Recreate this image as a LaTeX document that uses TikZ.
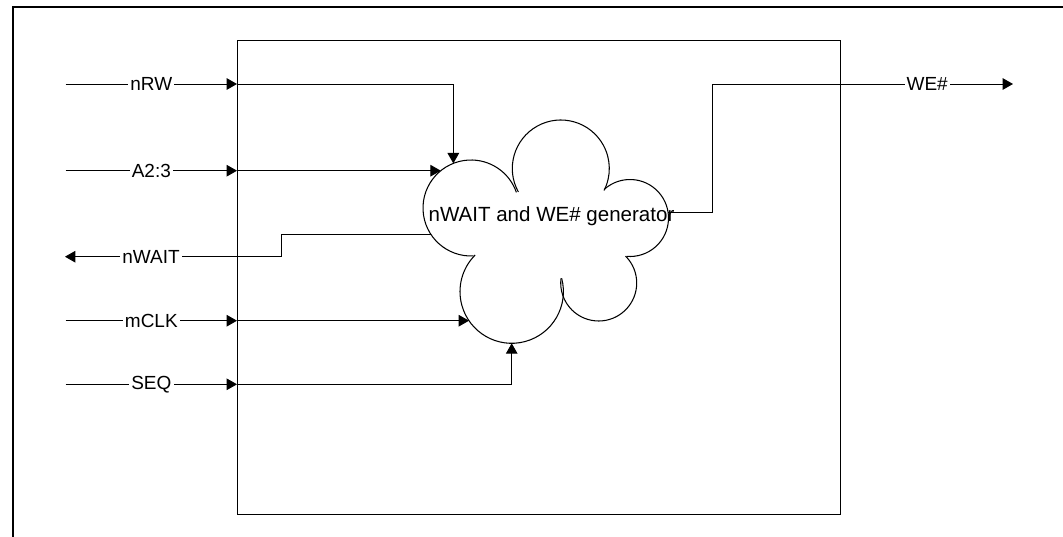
\documentclass[tikz,border=0pt]{standalone}
\usepackage{fontspec}
\setmainfont{Liberation Sans}
\usetikzlibrary{arrows.meta,positioning}

\begin{document}
\begin{tikzpicture}
[x=0.025cm, y=-0.025cm,
 sig/.style={draw=black, line width=0.7pt},
 sigin/.style={sig, -{Triangle[length=2.6mm,width=2.9mm]}},
 lbl/.style={fill=white, inner sep=1.5pt, font=\fontsize{13.5}{16}\selectfont},
 puff/.style={draw=black, line width=0.75pt}]
  \useasboundingbox (0,0) rectangle (1063,537);
  % outer frame
  \draw[line width=1.6pt] (13,537) -- (13,7) -- (1063,7);
  % block
  \node[draw, line width=0.9pt, minimum width=15.075cm, minimum height=11.84cm,
    inner sep=0pt] (blk) at (539.2,277.5) {};
  % generator cloud, one arc per puff
  \coordinate (puff-l) at (471,208);
  \coordinate (puff-t) at (560.8,168.5);
  \coordinate (puff-r) at (630,218);
  \coordinate (puff-lr) at (598.7,283);
  \coordinate (puff-b) at (511.7,291.6);
  \draw[puff] (puff-l) ++(-273:48) arc[start angle=-273, end angle=-19, radius=48];
  \draw[puff] (puff-t) ++(-209:48.5) arc[start angle=-209, end angle=27, radius=48.5];
  \draw[puff] (puff-r) ++(-132:38.5) arc[start angle=-132, end angle=95, radius=38.5];
  \draw[puff] (puff-lr) ++(-45:38) arc[start angle=-45, end angle=187, radius=38];
  \draw[puff] (puff-b) ++(-15:51.7) arc[start angle=-15, end angle=225, radius=51.7];
  \node[inner sep=0pt, anchor=base, font=\fontsize{14.6}{17}\selectfont] (gentxt)
    at (551.5,221.7) {nWAIT and WE\# generator};
  % where the connectors meet the cloud
  \path (puff-l) ++(-111.6:48) coordinate (nRW-tip);
  \path (puff-l) ++(-129:48) coordinate (A23-tip);
  \path (puff-l) ++(146.8:48) coordinate (nWAIT-tip);
  \path (puff-b) ++(145.7:51.7) coordinate (mCLK-tip);
  \path (puff-b) ++(90:51.7) coordinate (SEQ-tip);
  \path (puff-r) ++(-8:38.5) coordinate (WE-tip);
  % signal ends
  \coordinate (nRW-in) at (65.7,84);
  \coordinate (A23-in) at (65.7,170.7);
  \coordinate (nWAIT-out) at (65,256.7);
  \coordinate (mCLK-in) at (65.7,320.7);
  \coordinate (SEQ-in) at (65.7,384.3);
  \coordinate (WE-out) at (1013,84);
  % inputs
  \draw[sigin] (nRW-in) -- node[lbl]{nRW} (blk.west |- nRW-in);
  \draw[sigin] (blk.west |- nRW-in) -| (nRW-tip);
  \draw[sigin] (A23-in) -- node[lbl]{A2:3} (blk.west |- A23-in);
  \draw[sigin] (blk.west |- A23-in) -- (A23-tip |- A23-in);
  \draw[sigin] (mCLK-in) -- node[lbl]{mCLK} (blk.west |- mCLK-in);
  \draw[sigin] (blk.west |- mCLK-in) -- (mCLK-tip |- mCLK-in);
  \draw[sigin] (SEQ-in) -- node[lbl]{SEQ} (blk.west |- SEQ-in);
  \draw[sigin] (blk.west |- SEQ-in) -| (SEQ-tip);
  % outputs
  \draw[sig] (nWAIT-tip) -- ++(-149.8,0) |- (blk.west |- nWAIT-out);
  \draw[sigin] (blk.west |- nWAIT-out) -- node[lbl]{nWAIT} (nWAIT-out);
  \draw[sig] (WE-tip) -- ++(43.9,0) |- (blk.east |- WE-out);
  \draw[sigin] (blk.east |- WE-out) -- node[lbl]{WE\#} (WE-out);
\end{tikzpicture}
\end{document}
